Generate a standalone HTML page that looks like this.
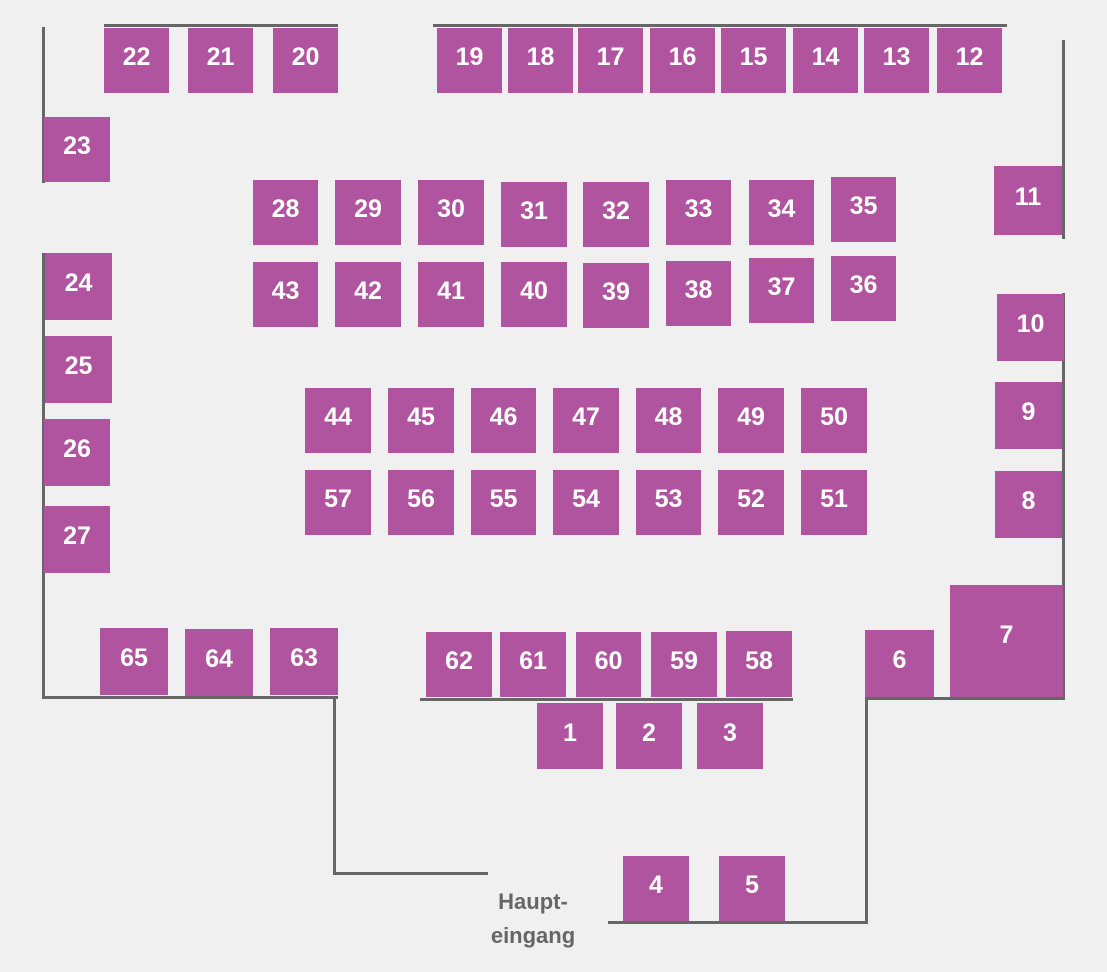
<!DOCTYPE html>
<html><head><meta charset="utf-8"><style>
html,body{margin:0;padding:0;}
body{width:1107px;height:972px;background:#f0f0f0;position:relative;overflow:hidden;font-family:"Liberation Sans",sans-serif;}
.b{position:absolute;background:#b0549f;color:#fff;font-weight:bold;font-size:25px;display:flex;align-items:center;justify-content:center;box-sizing:border-box;padding-bottom:6px;}
.l{position:absolute;background:#666;}
.t{position:absolute;color:#666;font-weight:bold;font-size:22px;text-align:center;line-height:34px;}
</style></head><body>
<div class="l" style="left:104px;top:24px;width:234px;height:3px"></div>
<div class="l" style="left:433px;top:24px;width:574px;height:3px"></div>
<div class="l" style="left:42px;top:27px;width:3px;height:156px"></div>
<div class="l" style="left:42px;top:253px;width:3px;height:446px"></div>
<div class="l" style="left:42px;top:696px;width:296px;height:3px"></div>
<div class="l" style="left:333px;top:697px;width:3px;height:178px"></div>
<div class="l" style="left:333px;top:872px;width:155px;height:3px"></div>
<div class="l" style="left:420px;top:698px;width:373px;height:3px"></div>
<div class="l" style="left:608px;top:921px;width:260px;height:3px"></div>
<div class="l" style="left:865px;top:698px;width:3px;height:226px"></div>
<div class="l" style="left:865px;top:697px;width:200px;height:3px"></div>
<div class="l" style="left:1062px;top:293px;width:3px;height:407px"></div>
<div class="l" style="left:1062px;top:40px;width:3px;height:199px"></div>

<div class="b" style="left:104px;top:28px;width:65px;height:65px">22</div>
<div class="b" style="left:188px;top:28px;width:65px;height:65px">21</div>
<div class="b" style="left:273px;top:28px;width:65px;height:65px">20</div>
<div class="b" style="left:437px;top:28px;width:65px;height:65px">19</div>
<div class="b" style="left:508px;top:28px;width:65px;height:65px">18</div>
<div class="b" style="left:578px;top:28px;width:65px;height:65px">17</div>
<div class="b" style="left:650px;top:28px;width:65px;height:65px">16</div>
<div class="b" style="left:721px;top:28px;width:65px;height:65px">15</div>
<div class="b" style="left:793px;top:28px;width:65px;height:65px">14</div>
<div class="b" style="left:864px;top:28px;width:65px;height:65px">13</div>
<div class="b" style="left:937px;top:28px;width:65px;height:65px">12</div>
<div class="b" style="left:44px;top:117px;width:66px;height:65px">23</div>
<div class="b" style="left:45px;top:253px;width:67px;height:67px">24</div>
<div class="b" style="left:45px;top:336px;width:67px;height:67px">25</div>
<div class="b" style="left:44px;top:419px;width:66px;height:67px">26</div>
<div class="b" style="left:44px;top:506px;width:66px;height:67px">27</div>
<div class="b" style="left:100px;top:628px;width:68px;height:67px">65</div>
<div class="b" style="left:185px;top:629px;width:68px;height:67px">64</div>
<div class="b" style="left:270px;top:628px;width:68px;height:67px">63</div>
<div class="b" style="left:426px;top:632px;width:66px;height:65px">62</div>
<div class="b" style="left:500px;top:632px;width:66px;height:65px">61</div>
<div class="b" style="left:576px;top:632px;width:65px;height:65px">60</div>
<div class="b" style="left:651px;top:632px;width:66px;height:65px">59</div>
<div class="b" style="left:726px;top:631px;width:66px;height:66px">58</div>
<div class="b" style="left:537px;top:703px;width:66px;height:66px">1</div>
<div class="b" style="left:616px;top:703px;width:66px;height:66px">2</div>
<div class="b" style="left:697px;top:703px;width:66px;height:66px">3</div>
<div class="b" style="left:623px;top:856px;width:66px;height:65px">4</div>
<div class="b" style="left:719px;top:856px;width:66px;height:65px">5</div>
<div class="b" style="left:865px;top:630px;width:69px;height:67px">6</div>
<div class="b" style="left:950px;top:585px;width:113px;height:112px;padding-bottom:8px;align-items:flex-start;padding-top:36px">7</div>
<div class="b" style="left:995px;top:471px;width:67px;height:67px">8</div>
<div class="b" style="left:995px;top:382px;width:67px;height:67px">9</div>
<div class="b" style="left:997px;top:294px;width:67px;height:67px">10</div>
<div class="b" style="left:994px;top:166px;width:68px;height:69px">11</div>

<div class="b" style="left:253px;top:180px;width:65px;height:65px">28</div>
<div class="b" style="left:335px;top:180px;width:66px;height:65px">29</div>
<div class="b" style="left:418px;top:180px;width:66px;height:65px">30</div>
<div class="b" style="left:501px;top:182px;width:66px;height:65px">31</div>
<div class="b" style="left:583px;top:182px;width:66px;height:65px">32</div>
<div class="b" style="left:666px;top:180px;width:65px;height:65px">33</div>
<div class="b" style="left:749px;top:180px;width:65px;height:65px">34</div>
<div class="b" style="left:831px;top:177px;width:65px;height:65px">35</div>
<div class="b" style="left:253px;top:262px;width:65px;height:65px">43</div>
<div class="b" style="left:335px;top:262px;width:66px;height:65px">42</div>
<div class="b" style="left:418px;top:262px;width:66px;height:65px">41</div>
<div class="b" style="left:501px;top:262px;width:66px;height:65px">40</div>
<div class="b" style="left:583px;top:263px;width:66px;height:65px">39</div>
<div class="b" style="left:666px;top:261px;width:65px;height:65px">38</div>
<div class="b" style="left:749px;top:258px;width:65px;height:65px">37</div>
<div class="b" style="left:831px;top:256px;width:65px;height:65px">36</div>

<div class="b" style="left:305px;top:388px;width:66px;height:65px">44</div>
<div class="b" style="left:388px;top:388px;width:66px;height:65px">45</div>
<div class="b" style="left:471px;top:388px;width:65px;height:65px">46</div>
<div class="b" style="left:553px;top:388px;width:66px;height:65px">47</div>
<div class="b" style="left:636px;top:388px;width:65px;height:65px">48</div>
<div class="b" style="left:718px;top:388px;width:66px;height:65px">49</div>
<div class="b" style="left:801px;top:388px;width:66px;height:65px">50</div>
<div class="b" style="left:305px;top:470px;width:66px;height:65px">57</div>
<div class="b" style="left:388px;top:470px;width:66px;height:65px">56</div>
<div class="b" style="left:471px;top:470px;width:65px;height:65px">55</div>
<div class="b" style="left:553px;top:470px;width:66px;height:65px">54</div>
<div class="b" style="left:636px;top:470px;width:65px;height:65px">53</div>
<div class="b" style="left:718px;top:470px;width:66px;height:65px">52</div>
<div class="b" style="left:801px;top:470px;width:66px;height:65px">51</div>

<div class="t" style="left:473px;top:885px;width:120px">Haupt-<br>eingang</div>
</body></html>
